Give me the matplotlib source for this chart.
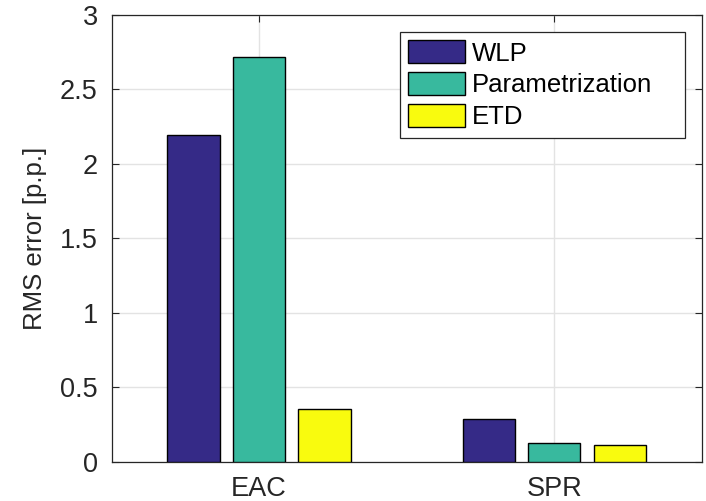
import numpy as np
import matplotlib.pyplot as plt

# data
categories = ['EAC', 'SPR']
methods = ['WLP', 'Parametrization', 'ETD']
wlp = [2.19, 0.288]
param = [2.716, 0.130]
etd = [0.353, 0.112]
colors = ['#352a87', '#38b99e', '#f9fb0e']

plt.rcParams['font.family'] = ['Liberation Sans', 'DejaVu Sans']
plt.rcParams['font.size'] = 18

fig = plt.figure(figsize=(7.06, 5.01), dpi=100)
ax = fig.add_axes([0.158, 0.078, 0.836, 0.893])

x = np.arange(1, len(categories) + 1)
width = 0.177
offset = 0.222
for i, (vals, name) in enumerate(zip([wlp, param, etd], methods)):
    ax.bar(x + (i - 1) * offset, vals, width, color=colors[i],
           edgecolor='black', linewidth=1.0, label=name, zorder=3)

ax.set_xlim(0.5, 2.5)
ax.set_ylim(0, 3)
ax.set_xticks(x)
ax.set_xticklabels(categories)
ax.set_yticks(np.arange(0, 3.01, 0.5))
ax.set_yticklabels(['0', '0.5', '1', '1.5', '2', '2.5', '3'])
ax.set_ylabel('RMS error [p.p.]', color='#262626', labelpad=9, fontsize=18.5)

ax.grid(True, color='#e3e3e3', linewidth=1.0, zorder=0)
ax.tick_params(direction='in', length=5, width=0.8, color='#262626',
               labelcolor='#262626', top=True, right=True, pad=10,
               labelsize=19.5)
for s in ax.spines.values():
    s.set_color('#262626')
    s.set_linewidth(0.9)

leg = ax.legend(loc='upper left', bbox_to_anchor=(0.488, 0.729, 0.483, 0.232),
                mode='expand', fancybox=False, framealpha=1, edgecolor='#262626',
                handlelength=2.2, handleheight=1.0, handletextpad=0.3,
                labelspacing=0.25, borderpad=0.33, borderaxespad=0,
                fontsize=18.5)
leg.get_frame().set_linewidth(0.9)

fig.savefig('out.png', dpi=100)
